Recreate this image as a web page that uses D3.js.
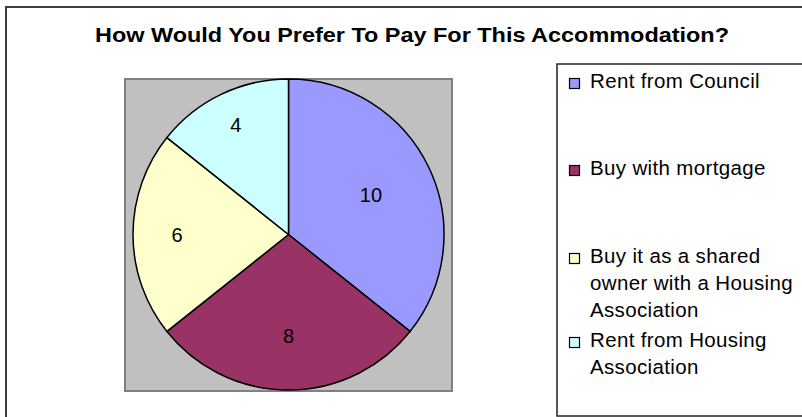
<!DOCTYPE html>
<html>
<head>
<meta charset="utf-8">
<script src="https://cdn.jsdelivr.net/npm/d3@7"></script>
<style>
  html, body { margin: 0; padding: 0; background: #fff; }
  svg { display: block; }
  text { font-family: "Liberation Sans", Arial, sans-serif; }
</style>
</head>
<body>
<svg id="chart" width="802" height="417"></svg>
<script>
// Survey answers: preferred way of paying for the accommodation
const title = "How Would You Prefer To Pay For This Accommodation?";
const categories = [
  "Rent from Council",
  "Buy with mortgage",
  "Buy it as a shared owner with a Housing Association",
  "Rent from Housing Association"
];
const counts = [10, 8, 6, 4];
const legendLines = [
  ["Rent from Council"],
  ["Buy with mortgage"],
  ["Buy it as a shared", "owner with a Housing", "Association"],
  ["Rent from Housing", "Association"]
];
const sliceColors = ["#9999FF", "#993366", "#FFFFCC", "#CCFFFF"];

const svg = d3.select("#chart");
const W = 802, H = 417;

svg.append("rect").attr("width", W).attr("height", H).attr("fill", "#fff");

// chart frame (runs off the right and bottom edges)
svg.append("rect")
  .attr("x", 6).attr("y", 7)
  .attr("width", 840).attr("height", 430)
  .attr("fill", "none").attr("stroke", "#3c3c3c").attr("stroke-width", 2);

// title
svg.append("text")
  .attr("x", 412).attr("y", 41.5)
  .attr("text-anchor", "middle")
  .attr("font-size", 21).attr("font-weight", "bold")
  .attr("textLength", 634).attr("lengthAdjust", "spacingAndGlyphs")
  .attr("fill", "#000")
  .text(title);

// plot area
const plot = { x: 125, y: 79, w: 327, h: 312 };
svg.append("rect")
  .attr("x", plot.x).attr("y", plot.y)
  .attr("width", plot.w).attr("height", plot.h)
  .attr("fill", "#C0C0C0").attr("stroke", "#808080").attr("stroke-width", 2);

const cx = 288.5, cy = 234.5, radius = 155.5;
const total = d3.sum(counts);

const pie = d3.pie().sort(null).value(d => d)(counts);
const arc = d3.arc().innerRadius(0).outerRadius(radius);

const g = svg.append("g").attr("transform", `translate(${cx},${cy})`);

g.selectAll("path.slice")
  .data(pie)
  .join("path")
  .attr("class", "slice")
  .attr("d", arc)
  .attr("fill", (d, i) => sliceColors[i])
  .attr("stroke", "#000")
  .attr("stroke-width", 1.5)
  .attr("stroke-linejoin", "round");

// value labels: narrower slices push their label further out
g.selectAll("text.value")
  .data(pie)
  .join("text")
  .attr("class", "value")
  .each(function (d) {
    const mid = (d.startAngle + d.endAngle) / 2;
    const rr = radius * (0.91 - 0.9 * d.value / total);
    d3.select(this)
      .attr("x", Math.sin(mid) * rr)
      .attr("y", -Math.cos(mid) * rr)
      .attr("dy", "0.36em");
  })
  .attr("text-anchor", "middle")
  .attr("font-size", 20)
  .attr("fill", "#000")
  .text(d => d.value);

// legend
svg.append("rect")
  .attr("x", 557).attr("y", 64)
  .attr("width", 280).attr("height", 352)
  .attr("fill", "#fff").attr("stroke", "#222").attr("stroke-width", 1.5);

const legendRowY = [88, 175, 263, 347];
const lineStep = 27;

const items = svg.selectAll("g.legend-item")
  .data(categories)
  .join("g")
  .attr("class", "legend-item")
  .attr("transform", (d, i) => `translate(0,${legendRowY[i]})`);

items.append("rect")
  .attr("x", 569.5).attr("y", -9.5)
  .attr("width", 10).attr("height", 10)
  .attr("fill", (d, i) => sliceColors[i])
  .attr("stroke", "#000").attr("stroke-width", 1.2);

items.each(function (d, i) {
  const t = d3.select(this).append("text")
    .attr("font-size", 20.5)
    .attr("letter-spacing", 0.35)
    .attr("fill", "#000");
  legendLines[i].forEach((line, k) => {
    t.append("tspan").attr("x", 590).attr("y", k * lineStep).text(line);
  });
});
</script>
</body>
</html>
